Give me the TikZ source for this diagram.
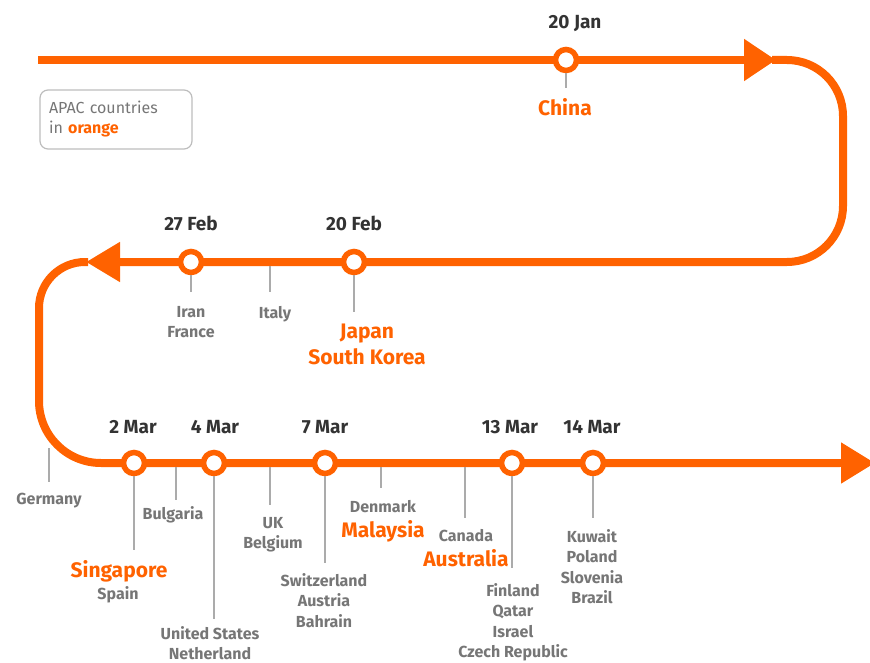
\documentclass[tikz,border=0pt]{standalone}
\usepackage{fontspec}
\setmainfont{Fira Sans}
\usetikzlibrary{arrows.meta,positioning}
\definecolor{ingorange}{HTML}{FF6200}
\definecolor{datecol}{HTML}{333333}
\definecolor{countrycol}{HTML}{767676}
\definecolor{tickcol}{HTML}{ABABAB}
\definecolor{keycol}{HTML}{BDBDBD}

\begin{document}
\begin{tikzpicture}[x=1pt, y=-1pt,
    route/.style={draw=ingorange, line width=8pt},
    stop/.style={circle, draw=ingorange, fill=white, line width=5.5pt, minimum size=21pt, inner sep=0pt},
    date/.style={anchor=base, text=datecol, font=\fontsize{19}{22}\selectfont\bfseries},
    lbl/.style={anchor=north, inner sep=0pt, align=center, text=countrycol, font=\fontsize{16}{20.5}\selectfont\bfseries},
    apac/.style={anchor=north, inner sep=0pt, align=center, text=ingorange, font=\fontsize{21}{26}\selectfont\bfseries},
    tick/.style={draw=tickcol, line width=2.4pt, shorten >=11pt},
    key/.style={draw=keycol, line width=1.2pt, rounded corners=8pt, text width=134pt, inner xsep=9pt,
      minimum height=59pt, align=left, text=countrycol, font=\fontsize{16}{20}\selectfont},
]
\useasboundingbox (0,0) rectangle (870,663);

\node[key] (key) at (116,119.5) {APAC countries\\in {\bfseries\color{ingorange}orange}};

% country labels
\node[apac] (china) at (565,98.5) {China};
\node[lbl] (iran) at (191,306) {Iran\\France};
\node[lbl] (italy) at (275,306) {Italy};
\node[apac] (japan) at (367,323.5) {Japan\\South Korea};
\node[lbl] (germany) at (49,493) {Germany};
\node[lbl] (bulgaria) at (173,506) {Bulgaria};
\node[apac] (singapore) at (119,560.5) {Singapore};
\node[lbl] (spain) at (118,586) {Spain};
\node[lbl] (usa) at (210,626) {United States\\Netherland};
\node[lbl] (uk) at (273,517) {UK\\Belgium};
\node[lbl] (swiss) at (324,573) {Switzerland\\Austria\\Bahrain};
\node[lbl] (denmark) at (383,500) {Denmark};
\node[apac] (malaysia) at (383,520.5) {Malaysia};
\node[lbl] (canada) at (466,529) {Canada};
\node[apac] (australia) at (466,549.5) {Australia};
\node[lbl] (finland) at (513,583) {Finland\\Qatar\\Israel\\Czech Republic};
\node[lbl] (kuwait) at (592,529) {Kuwait\\Poland\\Slovenia\\Brazil};

% the route
\draw[route, -{Triangle[length=32pt,width=40pt]}] (38,60) -- (776,60);
\draw[route, rounded corners=56pt, -{Triangle[length=34pt,width=38pt]}]
  (772,60) -- (843,60) -- (843,262) -- (86,262);
\draw[route] (88,262) [rounded corners=46pt] -- (39,262) [rounded corners=62pt] -- (39,463)
  -- (840,463);
\draw[route, -{Triangle[length=34pt,width=39pt]}] (836,463) -- (875,463);

\coordinate (italypt) at (270,266);
\coordinate (germanypt) at (49,448);
\coordinate (bulgariapt) at (176,467);
\coordinate (ukpt) at (270,467);
\coordinate (denmarkpt) at (381,467);
\coordinate (canadapt) at (465,467);
\draw[tick, shorten >=14pt] (italypt) -- (italypt |- italy.north);
\draw[tick] (germanypt) -- (germanypt |- germany.north);
\draw[tick, shorten >=6pt] (bulgariapt) -- (bulgariapt |- bulgaria.north);
\draw[tick, shorten >=12pt] (ukpt) -- (ukpt |- uk.north);
\draw[tick, shorten >=12pt] (denmarkpt) -- (denmarkpt |- denmark.north);
\draw[tick] (canadapt) -- (canadapt |- canada.north);

% stations
\node[stop] (s20jan) at (566,60) {};
\node[stop] (s27feb) at (191,262) {};
\node[stop] (s20feb) at (354,262) {};
\node[stop] (s2mar) at (134,463) {};
\node[stop] (s4mar) at (214,463) {};
\node[stop] (s7mar) at (325,463) {};
\node[stop] (s13mar) at (512,463) {};
\node[stop] (s14mar) at (593,463) {};

\draw[tick, shorten >=10.5pt] (s20jan) -- (s20jan |- china.north);
\draw[tick, shorten >=14pt] (s27feb) -- (s27feb |- iran.north);
\draw[tick, shorten >=11.5pt] (s20feb) -- (s20feb |- japan.north);
\draw[tick, shorten >=10.5pt] (s2mar) -- (s2mar |- singapore.north);
\draw[tick, shorten >=7pt] (s4mar) -- (s4mar |- usa.north);
\draw[tick, shorten >=10pt] (s7mar) -- (s7mar |- swiss.north);
\draw[tick, shorten >=15pt] (s13mar) -- (s13mar |- finland.north);
\draw[tick] (s14mar) -- (s14mar |- kuwait.north);

% dates
\node[date] (d20jan) at (575,29) {20 Jan};
\node[date] (d27feb) at (191,231) {27 Feb};
\node[date] (d20feb) at (354,231) {20 Feb};
\node[date] (d2mar) at (133,433) {2 Mar};
\node[date] (d4mar) at (215,433) {4 Mar};
\node[date] (d7mar) at (325,433) {7 Mar};
\node[date] (d13mar) at (510,433) {13 Mar};
\node[date] (d14mar) at (592,433) {14 Mar};
\end{tikzpicture}
\end{document}
